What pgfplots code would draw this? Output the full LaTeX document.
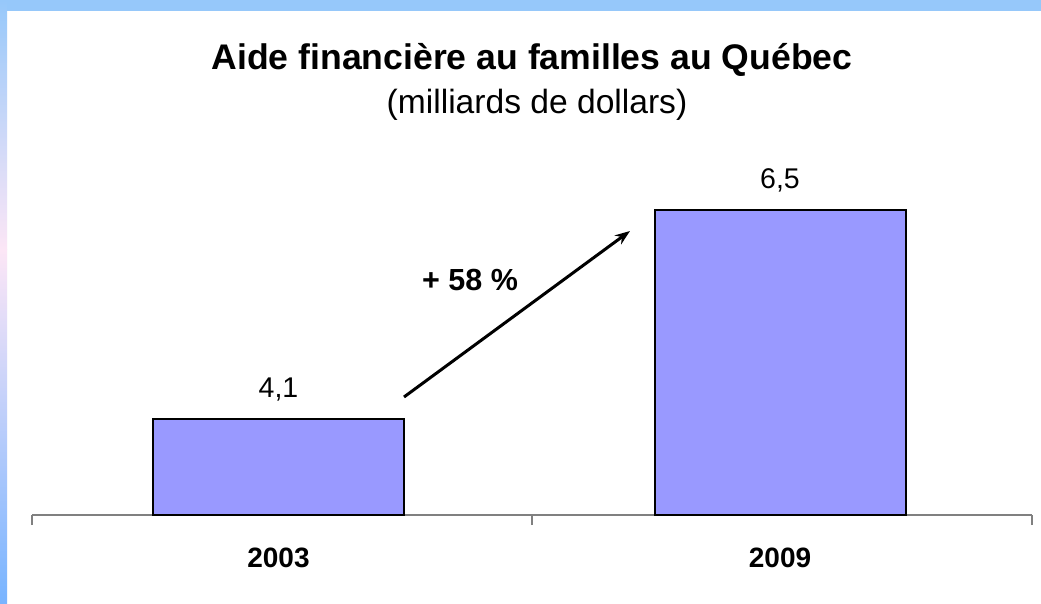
\documentclass[border=0pt]{standalone}
\usepackage{pgfplots}
\pgfplotsset{compat=1.18}
\usepackage{fontspec}
\setmainfont{Liberation Sans}
\usetikzlibrary{arrows.meta}
\definecolor{band}{RGB}{150,200,250}
\definecolor{bandpink}{RGB}{252,230,246}
\definecolor{bandlow}{RGB}{120,180,255}
\definecolor{barfill}{RGB}{153,153,255}
\begin{document}
\begin{tikzpicture}[x=1pt,y=1pt]
\path[use as bounding box] (0,0) rectangle (1041,603);
\fill[white] (0,0) rectangle (1041,603);
\fill[band] (0,592) rectangle (1041,603);
\shade[top color=band, bottom color=bandpink] (0,353) rectangle (7,603);
\shade[top color=bandpink, bottom color=bandlow] (0,0) rectangle (7,353);
\node[anchor=base, font=\bfseries\fontsize{35.6}{42}\selectfont] at (532,533) {Aide financière au familles au Québec};
\node[anchor=base, font=\fontsize{33.6}{40}\selectfont] at (537,489) {(milliards de dollars)};
\begin{axis}[
  at={(32pt,88pt)}, anchor=south west,
  scale only axis, width=1000pt, height=375pt,
  xmin=-0.5, xmax=1.5, ymin=3, ymax=7.306,
  axis x line=bottom, axis y line=none,
  x axis line style={gray, line width=1.5pt, -},
  xtick={-0.007,0.996}, xticklabels={2003,2009},
  major tick length=0pt,
  xticklabel style={font=\bfseries\fontsize{28}{34}\selectfont, anchor=base, yshift=-52pt},
  extra x ticks={-0.5,0.5,1.5}, extra x tick labels={},
  extra x tick style={major tick length=10pt, tick align=outside, tick style={gray, line width=1.5pt}},
  ybar, bar width=0.502, bar shift=0pt,
  /pgf/number format/assume math mode=true,
  nodes near coords={\pgfmathprintnumber[fixed,precision=1,use comma]{\pgfplotspointmeta}},
  every node near coord/.append style={anchor=base, yshift=22pt, font=\fontsize{28.5}{34}\selectfont},
  clip=true,
]
\addplot[draw=black, line width=2pt, fill=barfill] coordinates {(-0.007,4.1) (0.996,6.5)};
\draw[line width=3pt, -{Stealth[length=15pt,width=11pt]}] (axis cs:0.244,4.355) -- (axis cs:0.696,6.261);
\node[font=\bfseries\fontsize{30.5}{36}\selectfont] at (axis cs:0.376,5.70) {+ 58 \%};
\end{axis}
\end{tikzpicture}
\end{document}
